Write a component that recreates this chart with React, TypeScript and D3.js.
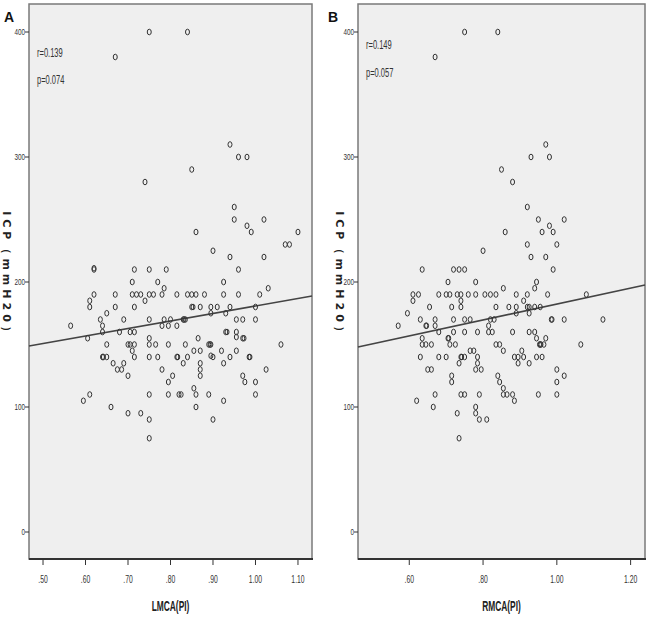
import React from "react";
import * as d3 from "d3";

// ---------- DATA ----------
const yTicks = [0, 100, 200, 300, 400];
const xTicksA = [0.5, 0.6, 0.7, 0.8, 0.9, 1.0, 1.1];
const xTickLabelsA = [".50", ".60", ".70", ".80", ".90", "1.00", "1.10"];
const xTicksB = [0.6, 0.8, 1.0, 1.2];
const xTickLabelsB = [".60", ".80", "1.00", "1.20"];

// Panel A: LMCA(PI) vs ICP
const lmcaPoints: [number, number][] = [
  [0.75, 400], [0.84, 400], [0.67, 380], [0.94, 310], [0.96, 300], [0.98, 300], [0.85, 290], [0.74, 280],
  [0.95, 260], [0.95, 250], [1.02, 250], [0.98, 245], [0.99, 240], [0.86, 240], [1.10, 240],
  [1.07, 230], [1.08, 230], [0.90, 225], [0.94, 220], [1.02, 220],
  [0.62, 210], [0.62, 211], [0.715, 210], [0.75, 210], [0.79, 210], [0.96, 210],
  [0.71, 200], [0.77, 200], [0.925, 200], [0.785, 195], [1.03, 195],
  [0.62, 190], [0.67, 190], [0.71, 190], [0.72, 190], [0.73, 190], [0.75, 190], [0.76, 190], [0.78, 190],
  [0.815, 190], [0.84, 190], [0.85, 190], [0.86, 190], [0.88, 190], [0.925, 190], [0.96, 190], [1.01, 190],
  [0.61, 185], [0.74, 185],
  [0.61, 180], [0.67, 180], [0.715, 180], [0.85, 180], [0.853, 180], [0.87, 180], [0.895, 180], [0.91, 180], [0.94, 180], [1.00, 180],
  [0.65, 175], [0.895, 175], [0.93, 175],
  [0.635, 170], [0.69, 170], [0.75, 170], [0.785, 170], [0.80, 170], [0.83, 170], [0.832, 170], [0.835, 170], [0.955, 170], [0.97, 170], [1.00, 170],
  [0.565, 165], [0.64, 165], [0.78, 165], [0.795, 165], [0.815, 165],
  [0.64, 160], [0.68, 160], [0.705, 160], [0.715, 160], [0.93, 160], [0.933, 160], [0.955, 160],
  [0.605, 155], [0.75, 155], [0.865, 155], [0.97, 155], [0.973, 155], [0.955, 156],
  [0.65, 150], [0.70, 150], [0.705, 150], [0.715, 150], [0.75, 150], [0.765, 150], [0.795, 150], [0.835, 150], [0.89, 150], [0.893, 150], [0.895, 150], [1.06, 150],
  [0.71, 145], [0.855, 145], [0.87, 145], [0.92, 145], [0.955, 145],
  [0.64, 140], [0.642, 140], [0.65, 140], [0.715, 140], [0.75, 140], [0.77, 140], [0.815, 140], [0.817, 140], [0.84, 140], [0.90, 140], [0.895, 141], [0.94, 140], [0.985, 140], [0.987, 140],
  [0.665, 135], [0.69, 135], [0.83, 135], [0.87, 135], [0.925, 135],
  [0.675, 130], [0.685, 130], [0.78, 130], [0.87, 130], [1.025, 130],
  [0.70, 125], [0.805, 125], [0.87, 125], [0.97, 125],
  [0.795, 120], [0.975, 120], [1.00, 120], [0.855, 115],
  [0.61, 110], [0.75, 110], [0.795, 110], [0.82, 110], [0.825, 110], [0.86, 110], [0.89, 110], [1.00, 110],
  [0.595, 105], [0.925, 105], [0.66, 100], [0.86, 100], [0.70, 95], [0.73, 95], [0.75, 90], [0.90, 90], [0.75, 75],
];

// Panel B: RMCA(PI) vs ICP
const rmcaPoints: [number, number][] = [
  [0.75, 400], [0.84, 400], [0.67, 380], [0.97, 310], [0.93, 300], [0.98, 300], [0.85, 290], [0.88, 280],
  [0.92, 260], [0.95, 250], [1.02, 250], [0.98, 245], [0.96, 240], [0.99, 240], [0.86, 240], [1.00, 230], [0.92, 230],
  [0.80, 225], [0.93, 220], [0.97, 220],
  [0.635, 210], [0.72, 210], [0.735, 210], [0.75, 210], [0.99, 210],
  [0.705, 200], [0.78, 200], [0.945, 200], [0.855, 195], [0.94, 195],
  [0.61, 190], [0.625, 190], [0.68, 190], [0.70, 190], [0.71, 190], [0.73, 190], [0.74, 190], [0.76, 190], [0.78, 190],
  [0.805, 190], [0.82, 190], [0.835, 190], [0.89, 190], [0.92, 190], [0.975, 190], [1.08, 190],
  [0.61, 185], [0.74, 185], [0.91, 185],
  [0.655, 180], [0.715, 180], [0.74, 180], [0.835, 180], [0.87, 180], [0.89, 180], [0.92, 180], [0.925, 180], [0.94, 180], [0.955, 180],
  [0.595, 175], [0.89, 175], [0.925, 175],
  [0.63, 170], [0.67, 170], [0.72, 170], [0.75, 170], [0.765, 170], [0.82, 170], [0.83, 170], [0.985, 170], [0.987, 170], [1.02, 170], [1.125, 170],
  [0.57, 165], [0.645, 165], [0.647, 165], [0.67, 165], [0.815, 165],
  [0.68, 160], [0.72, 160], [0.75, 160], [0.785, 160], [0.815, 160], [0.825, 160], [0.88, 160], [0.925, 160], [0.94, 160],
  [0.635, 155], [0.705, 155], [0.707, 155], [0.945, 155], [0.97, 155],
  [0.635, 150], [0.645, 150], [0.66, 150], [0.71, 150], [0.725, 150], [0.835, 150], [0.845, 150], [0.953, 150], [0.955, 150], [0.957, 150], [0.965, 150], [1.065, 150],
  [0.765, 145], [0.775, 145], [0.855, 145], [0.905, 145],
  [0.63, 140], [0.68, 140], [0.70, 140], [0.74, 140], [0.742, 140], [0.75, 140], [0.785, 140], [0.885, 140], [0.895, 140], [0.91, 140], [0.945, 140], [0.96, 140],
  [0.735, 135], [0.785, 135], [0.895, 135], [0.925, 135],
  [0.65, 130], [0.66, 130], [0.78, 130], [0.795, 130], [1.00, 130],
  [0.715, 125], [0.84, 125], [1.02, 125], [0.715, 120], [0.845, 120], [1.00, 120], [0.855, 115],
  [0.67, 110], [0.74, 110], [0.75, 110], [0.79, 110], [0.855, 110], [0.865, 110], [0.88, 110], [0.95, 110], [1.00, 110],
  [0.62, 105], [0.885, 105], [0.665, 100], [0.78, 100], [0.73, 95], [0.78, 95], [0.79, 90], [0.81, 90], [0.735, 75],
];

// Fit lines: intercept, slope
const fitA = [120.8, 60];
const fitB = [118.6, 63.8];
const statsA = ["r=0.139", "p=0.074"];
const statsB = ["r=0.149", "p=0.057"];

const SANS = "'Liberation Sans', Arial, sans-serif";

function NText(props: {
  x: number; y: number; sx: number; size: number; anchor?: string; weight?: string; fill?: string; children: React.ReactNode;
}) {
  return (
    <text
      transform={`translate(${props.x},${props.y}) scale(${props.sx},1)`}
      textAnchor={props.anchor || "start"}
      fontSize={props.size}
      fontWeight={props.weight || "normal"}
      fontFamily={SANS}
      fill={props.fill || "#333"}
    >
      {props.children}
    </text>
  );
}

type PanelProps = {
  letter: string;
  left: number;
  right: number;
  xDomain: [number, number];
  xTicks: number[];
  xTickLabels: string[];
  xLabel: string;
  points: [number, number][];
  fit: number[];
  stats: string[];
  statsY: [number, number];
  letterX: number;
  yLabelX: number;
};

function Panel(p: PanelProps) {
  const top = 4;
  const bottom = 559;
  const x = d3.scaleLinear().domain(p.xDomain).range([p.left, p.right]);
  const y = d3.scaleLinear().domain([-21.6, 422.4]).range([bottom, top]);
  const [b0, b1] = p.fit;
  const fitLine = d3.line<number>().x((v) => x(v)).y((v) => y(b0 + b1 * v));
  const cx = (p.left + p.right) / 2;
  return (
    <g>
      <rect x={p.left} y={top} width={p.right - p.left} height={bottom - top} fill="#efefef" stroke="#7a7a7a" strokeWidth={1.5} />
      <line x1={p.left} x2={p.right + 1} y1={bottom} y2={bottom} stroke="#333" strokeWidth={2} />
      {yTicks.map((t) => (
        <g key={t}>
          <line x1={p.left - 4} x2={p.left} y1={y(t)} y2={y(t)} stroke="#333" strokeWidth={1} />
          <NText x={p.left - 4} y={y(t) + 3} sx={0.7} size={9} anchor="end">{t}</NText>
        </g>
      ))}
      {p.xTicks.map((t, i) => (
        <g key={t}>
          <line x1={x(t)} x2={x(t)} y1={bottom} y2={bottom + 6} stroke="#333" strokeWidth={1} />
          <NText x={x(t)} y={583} sx={0.62} size={11} anchor="middle">{p.xTickLabels[i]}</NText>
        </g>
      ))}
      <path d={fitLine(p.xDomain) || ""} stroke="#444" strokeWidth={1.6} fill="none" />
      {p.points.map((d, i) => (
        <ellipse key={i} cx={x(d[0])} cy={y(d[1])} rx={2} ry={2.8} fill="none" stroke="#333" strokeWidth={1} />
      ))}
      <NText x={p.left + 8} y={p.statsY[0]} sx={0.58} size={13}>{p.stats[0]}</NText>
      <NText x={p.left + 8} y={p.statsY[1]} sx={0.58} size={13}>{p.stats[1]}</NText>
      <NText x={cx} y={611} sx={0.6} size={14} weight="bold" anchor="middle" fill="#222">{p.xLabel}</NText>
      <text transform={`translate(${p.yLabelX},276) rotate(90)`} textAnchor="middle" dy="0.35em" fontSize={11} fontWeight="bold" fontFamily="'DejaVu Sans', sans-serif" fill="#222" letterSpacing={4}>ICP（mmH20）</text>
      <text x={p.letterX} y={22} fontSize={14} fontWeight="bold" fontFamily={SANS} fill="#111">{p.letter}</text>
    </g>
  );
}

export default function App() {
  return (
    <svg width={649} height={621} style={{ position: "absolute", left: 0, top: 0, background: "#fff" }}>
      <rect width={649} height={621} fill="#fff" />
      <Panel
        letter="A" left={29} right={312} xDomain={[0.467, 1.133]} xTicks={xTicksA} xTickLabels={xTickLabelsA}
        xLabel="LMCA(PI)" points={lmcaPoints} fit={fitA} stats={statsA} statsY={[57, 84]} letterX={4} yLabelX={7}
      />
      <Panel
        letter="B" left={358} right={645} xDomain={[0.461, 1.239]} xTicks={xTicksB} xTickLabels={xTickLabelsB}
        xLabel="RMCA(PI)" points={rmcaPoints} fit={fitB} stats={statsB} statsY={[49, 77]} letterX={328} yLabelX={340}
      />
    </svg>
  );
}
